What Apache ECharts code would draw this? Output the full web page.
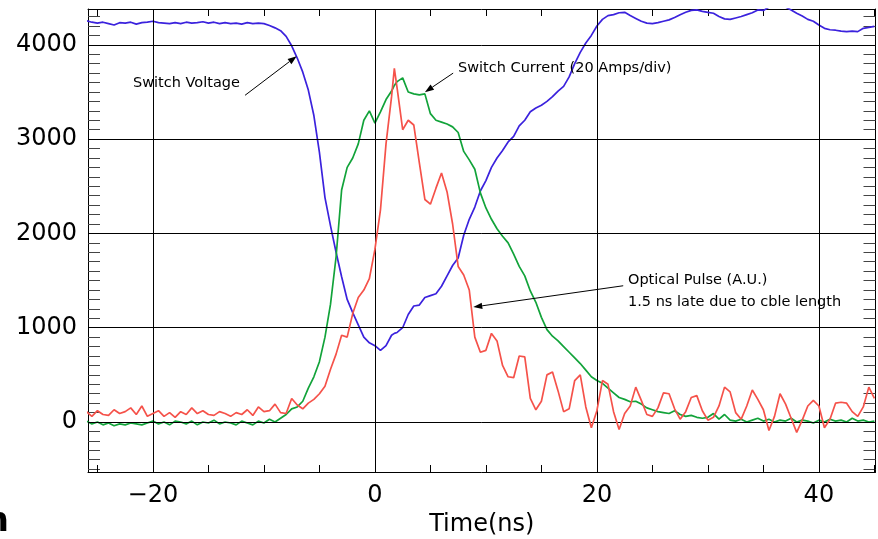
<!DOCTYPE html>
<html>
<head>
<meta charset="utf-8">
<script src="https://cdn.jsdelivr.net/npm/echarts@6/dist/echarts.min.js"></script>
<style>
html,body{margin:0;padding:0;background:#fff;}
#chart{width:878px;height:539px;}
</style>
</head>
<body>
<div id="chart"></div>
<script>
// Sample times (ns)
const timeNs = [
  -26,-25.5,-25,-24.5,-24,-23.5,-23,-22.5,-22,-21.5,
  -21,-20.5,-20,-19.5,-19,-18.5,-18,-17.5,-17,-16.5,
  -16,-15.5,-15,-14.5,-14,-13.5,-13,-12.5,-12,-11.5,
  -11,-10.5,-10,-9.5,-9,-8.5,-8,-7.5,-7,-6.5,
  -6,-5.5,-5,-4.5,-4,-3.5,-3,-2.5,-2,-1.5,
  -1,-0.5,0,0.5,1,1.5,1.75,2,2.5,3,
  3.5,4,4.5,5,5.5,6,6.5,7,7.5,8,
  8.5,9,9.5,10,10.5,11,11.5,12,12.5,13,
  13.5,14,14.5,15,15.5,16,16.5,17,17.5,18,
  18.5,19,19.5,20,20.5,21,21.5,22,22.5,23,
  23.5,24,24.5,25,25.5,26,26.5,27,27.5,28,
  28.5,29,29.5,30,30.5,31,31.5,32,32.5,33,
  33.5,34,34.5,35,35.5,36,36.5,37,37.5,38,
  38.5,39,39.5,40,40.5,41,41.5,42,42.5,43,
  43.5,44,44.5,45
];
// Switch Voltage (blue)
const switchVoltage = [
  4255,4240,4230,4240,4225,4210,4235,4230,4240,4220,
  4235,4240,4250,4235,4230,4225,4235,4225,4240,4230,
  4235,4245,4230,4240,4225,4235,4225,4230,4220,4235,
  4225,4230,4225,4205,4180,4150,4090,3990,3860,3710,
  3520,3250,2860,2380,2080,1800,1540,1300,1160,1030,
  900,840,810,760,810,920,940,950,1000,1140,
  1230,1240,1320,1340,1360,1440,1550,1660,1740,1980,
  2150,2280,2450,2560,2700,2800,2880,2970,3030,3140,
  3200,3290,3330,3360,3400,3450,3510,3560,3660,3800,
  3920,4020,4100,4200,4270,4310,4320,4340,4345,4310,
  4280,4250,4230,4225,4235,4250,4265,4290,4320,4345,
  4365,4370,4355,4345,4335,4300,4275,4270,4285,4300,
  4320,4340,4370,4365,4400,4420,4420,4400,4370,4335,
  4305,4270,4250,4210,4175,4160,4155,4145,4140,4145,
  4140,4175,4185,4195
];
// Switch Current (green)
const switchCurrent = [
  10,-20,0,-30,-10,-40,-20,-30,-10,-20,
  -30,-10,10,-20,0,-30,10,0,-20,10,
  -30,0,-10,20,-20,0,-10,-30,10,-10,
  -30,10,-10,30,0,40,80,140,160,220,
  360,480,640,900,1250,1750,2460,2700,2800,2950,
  3200,3300,3170,3290,3420,3510,3570,3610,3650,3500,
  3480,3470,3480,3270,3200,3180,3160,3130,3070,2870,
  2780,2680,2430,2270,2150,2050,1970,1900,1780,1650,
  1550,1390,1270,1110,980,910,860,800,740,680,
  620,550,480,440,410,360,310,260,240,215,
  220,190,150,130,110,100,90,120,80,60,
  70,50,40,50,90,30,80,20,10,30,
  0,20,40,10,30,0,20,10,40,0,
  20,10,-10,20,0,30,10,20,0,40,
  10,20,0,10
];
// Optical Pulse (red)
const opticalPulse = [
  110,60,120,80,70,130,90,110,150,80,
  170,60,90,120,60,100,50,110,80,150,
  90,120,80,70,110,90,60,100,80,130,
  70,160,110,120,190,100,90,250,180,140,
  200,240,300,380,560,720,920,900,1150,1320,
  1400,1520,1830,2250,2950,3450,3750,3540,3100,3200,
  3150,2750,2360,2310,2480,2640,2440,2100,1650,1560,
  1400,900,740,760,940,860,600,480,470,700,
  690,250,130,220,500,530,330,110,140,440,
  500,160,-60,120,440,400,110,-80,90,170,
  370,230,80,60,150,310,300,140,30,110,
  260,280,120,20,50,170,370,320,100,30,
  170,340,240,130,-90,60,300,190,40,-110,
  20,170,230,170,-60,30,200,210,200,110,
  60,160,370,250
];
// Axis ticks
const xMinorTicks = [-25,-20,-15,-10,-5,0,5,10,15,20,25,30,35,40,45];
const xMajorTicks = [-20,0,20,40];
const yMinorTicks = [];
for (let v = -500; v <= 4300; v += 100) yMinorTicks.push(v);
const yMajorTicks = [0,1000,2000,3000,4000];

const FONT = 'DejaVu Sans';
const chart = echarts.init(document.getElementById('chart'), null, {renderer:'canvas'});

function pairs(vals){ return timeNs.map((t,i)=>[t, vals[i]]); }

const xBase = {
  type:'value', min:-25.85, max:45.1,
  splitLine:{show:false}, minorTick:{show:false},
  axisLine:{show:true, onZero:false, lineStyle:{color:'#000', width:1}}
};
const yBase = {
  type:'value', min:-530, max:4380,
  splitLine:{show:false}, minorTick:{show:false},
  axisLine:{show:true, onZero:false, lineStyle:{color:'#000', width:1}}
};

chart.setOption({
  animation:false,
  backgroundColor:'#fff',
  grid:{left:88, right:2.5, top:9, bottom:67, containLabel:false, outerBoundsMode:'none'},
  xAxis:[
    Object.assign({}, xBase, {
      position:'bottom',
      axisTick:{show:true, inside:true, length:7, customValues:xMinorTicks, lineStyle:{color:'#000'}},
      axisLabel:{show:true, customValues:xMajorTicks, color:'#000', fontFamily:FONT, fontSize:24, margin:12,
        formatter:v=> (v<0 ? '\u2212'+Math.abs(v) : String(v))},
      name:'Time(ns)', nameLocation:'middle', nameGap:40,
      nameTextStyle:{color:'#000', fontFamily:FONT, fontSize:24}
    }),
    Object.assign({}, xBase, {
      position:'top',
      axisTick:{show:true, inside:true, length:7, customValues:xMinorTicks, lineStyle:{color:'#000'}},
      axisLabel:{show:false}
    })
  ],
  yAxis:[
    Object.assign({}, yBase, {
      position:'left',
      axisTick:{show:true, inside:true, length:12, customValues:yMinorTicks, lineStyle:{color:'#444'}},
      axisLabel:{show:true, customValues:yMajorTicks, color:'#000', fontFamily:FONT, fontSize:24, margin:11,
        formatter:v=>String(v)}
    }),
    Object.assign({}, yBase, {
      position:'right',
      axisTick:{show:true, inside:true, length:12, customValues:yMinorTicks, lineStyle:{color:'#444'}},
      axisLabel:{show:false}
    })
  ],
  series:[
    {
      name:'Switch Voltage', type:'line', data:pairs(switchVoltage),
      xAxisIndex:0, yAxisIndex:0,
      showSymbol:false, symbol:'none', clip:true,
      lineStyle:{color:'#3b22dd', width:1.7},
      markLine:{
        silent:true, symbol:['none','none'], label:{show:false},
        lineStyle:{color:'#000', width:1, type:'solid'},
        emphasis:{disabled:true},
        data: xMajorTicks.map(v=>({xAxis:v})).concat(yMajorTicks.map(v=>({yAxis:v})))
      },
      z:3
    },
    {
      name:'Switch Current', type:'line', data:pairs(switchCurrent),
      xAxisIndex:0, yAxisIndex:0,
      showSymbol:false, symbol:'none', clip:true,
      lineStyle:{color:'#12a33a', width:1.7}, z:4
    },
    {
      name:'Optical Pulse', type:'line', data:pairs(opticalPulse),
      xAxisIndex:0, yAxisIndex:0,
      showSymbol:false, symbol:'none', clip:true,
      lineStyle:{color:'#f5524a', width:1.7}, z:5
    }
  ]
});

// Annotations (anchored in data space)
function px(x,y){ return chart.convertToPixel({xAxisIndex:0, yAxisIndex:0}, [x,y]); }
function arrow(tail, tip){
  const a = px(tail[0], tail[1]), b = px(tip[0], tip[1]);
  const dx = b[0]-a[0], dy = b[1]-a[1], L = Math.hypot(dx,dy);
  const ux = dx/L, uy = dy/L, hl = 9, hw = 3.2;
  const bx = b[0]-ux*hl, by = b[1]-uy*hl;
  return [
    {type:'line', silent:true, z:50, shape:{x1:a[0], y1:a[1], x2:bx, y2:by}, style:{stroke:'#000', lineWidth:1}},
    {type:'polygon', silent:true, z:50, shape:{points:[[b[0],b[1]],[bx-uy*hw, by+ux*hw],[bx+uy*hw, by-ux*hw]]}, style:{fill:'#000'}}
  ];
}
function label(text, x, y){
  return {type:'text', silent:true, z:50, style:{x:x, y:y, text:text, fill:'#000', font:'14.5px "DejaVu Sans"', textVerticalAlign:'middle', textAlign:'left'}};
}
const g = [];
g.push(label('Switch Voltage', 133, 83));
g.push(...arrow([-11.7, 3465], [-7.05, 3880]));
g.push(label('Switch Current (20 Amps/div)', 458, 68));
g.push(...arrow([7.05, 3700], [4.5, 3498]));
g.push(label('Optical Pulse (A.U.)', 628, 280));
g.push(label('1.5 ns late due to cble length', 628, 302));
g.push(...arrow([22.37, 1445], [8.86, 1219]));
g.push({type:'text', silent:true, z:50, style:{x:9, y:522, text:'n', fill:'#000', font:'bold 34px "DejaVu Sans"', textAlign:'right', textVerticalAlign:'middle'}});
chart.setOption({graphic:g});
</script>
</body>
</html>
